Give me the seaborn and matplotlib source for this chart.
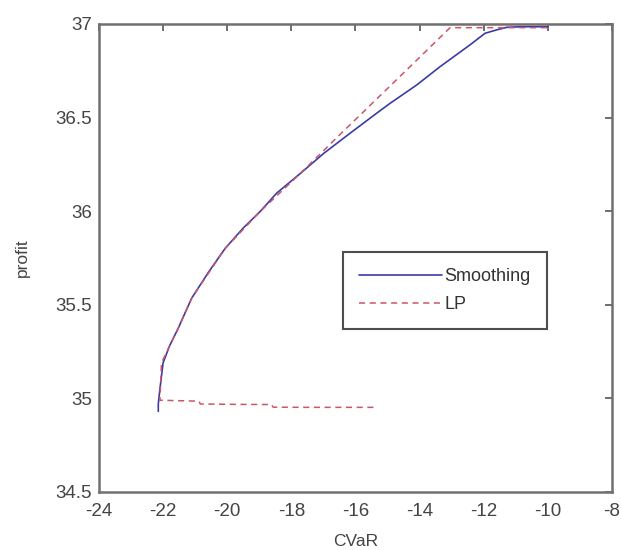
import matplotlib
matplotlib.use("Agg")
import matplotlib.pyplot as plt
from matplotlib.ticker import FormatStrFormatter
import seaborn as sns
import pandas as pd

# Smoothing frontier (CVaR, profit)
smooth_cvar = [-22.15, -22.15, -22.10, -22.05, -22.00, -21.80, -21.53, -21.11, -20.60,
               -20.07, -19.50, -18.98, -18.46, -17.73, -16.98, -16.17, -15.34, -14.92,
               -14.09, -13.36, -12.43, -11.96, -11.60, -11.28, -10.80, -10.00]
smooth_profit = [34.93, 34.97, 35.05, 35.12, 35.19, 35.28, 35.374, 35.535, 35.67,
                 35.80, 35.91, 35.997, 36.096, 36.20, 36.31, 36.416, 36.523, 36.576,
                 36.674, 36.772, 36.888, 36.95, 36.968, 36.982, 36.985, 36.985]

# LP frontier (CVaR, profit)
lp_cvar = [-15.44, -16.50, -17.50, -18.57, -18.62, -19.80, -20.84, -20.88, -22.10,
           -22.05, -21.53, -21.11, -20.07, -18.98, -17.73, -16.48, -14.61, -13.05,
           -12.00, -10.00]
lp_profit = [34.952, 34.952, 34.952, 34.953, 34.967, 34.968, 34.970, 34.985, 34.990,
             35.19, 35.374, 35.535, 35.80, 35.997, 36.20, 36.41, 36.72, 36.98,
             36.98, 36.98]

x_ticks = [-24, -22, -20, -18, -16, -14, -12, -10, -8]
y_ticks = [34.5, 35, 35.5, 36, 36.5, 37]

sns.set_style("white")
plt.rcParams['font.family'] = ['Liberation Sans', 'DejaVu Sans']

df_s = pd.DataFrame({"CVaR": smooth_cvar, "profit": smooth_profit})
df_l = pd.DataFrame({"CVaR": lp_cvar, "profit": lp_profit})

fig = plt.figure(figsize=(6.21, 5.5), dpi=100)
ax = fig.add_axes([0.1594, 0.1055, 0.8261, 0.851])

sns.lineplot(data=df_s, x="CVaR", y="profit", sort=False, estimator=None,
             color="#3b3ba8", lw=1.2, ax=ax, label="Smoothing")
sns.lineplot(data=df_l, x="CVaR", y="profit", sort=False, estimator=None,
             color="#cc5566", lw=1.1, ax=ax, label="LP", linestyle=(0, (4, 3)))

ax.set_xlim(-24, -8)
ax.set_ylim(34.5, 37)
ax.set_xticks(x_ticks)
ax.set_yticks(y_ticks)
ax.yaxis.set_major_formatter(FormatStrFormatter('%g'))
ax.xaxis.set_major_formatter(FormatStrFormatter('%g'))
ax.tick_params(direction="in", length=5, width=1.2, color="#555555",
               labelsize=13.5, labelcolor="#444444", top=True, right=True)
ax.tick_params(axis="x", pad=8)
ax.tick_params(axis="y", pad=5)
for sp in ax.spines.values():
    sp.set_color("#707070")
    sp.set_linewidth(1.8)

ax.set_xlabel("CVaR", fontsize=12.5, color="#444444", labelpad=10)
ax.set_ylabel("profit", fontsize=12.5, color="#444444", labelpad=18)

leg = ax.legend(loc="upper left", bbox_to_anchor=(0.476, 0.513), frameon=True,
                fancybox=False, edgecolor="#222222", fontsize=13,
                handlelength=4.6, handletextpad=0.1, borderpad=0.9,
                labelspacing=0.6, borderaxespad=0)
leg.get_frame().set_linewidth(1.5)
for t in leg.get_texts():
    t.set_color("#333333")

fig.savefig("out.png", dpi=100)
